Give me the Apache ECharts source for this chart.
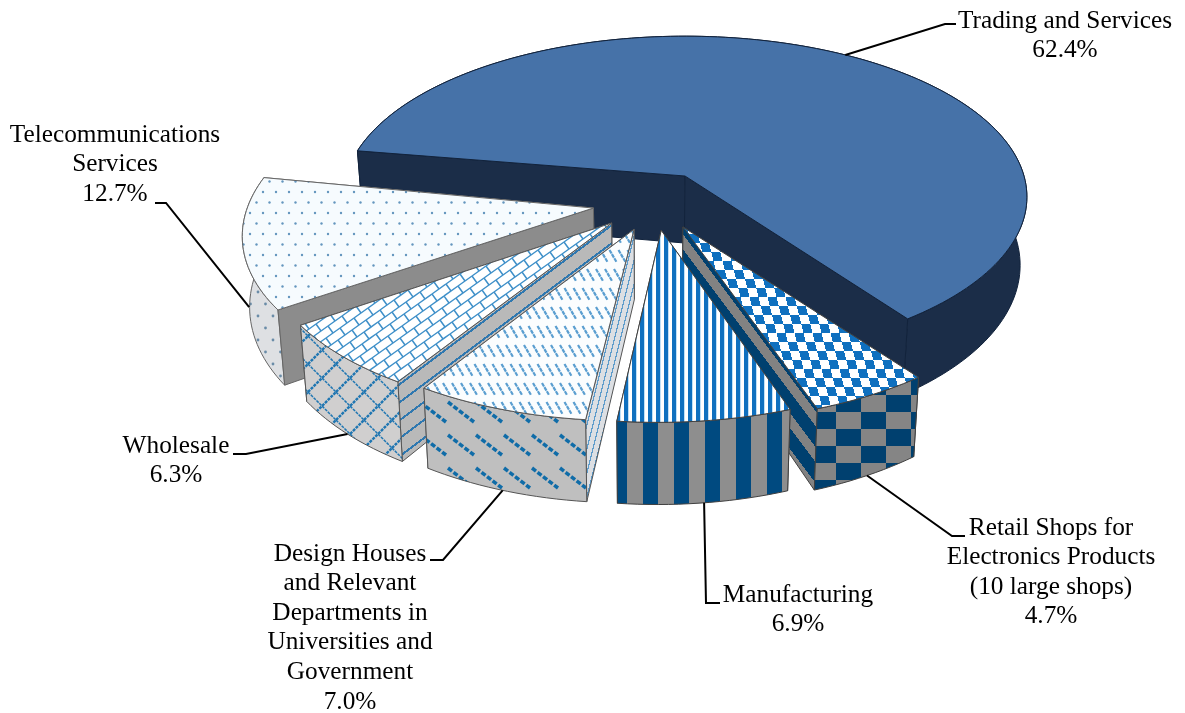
<!DOCTYPE html>
<html><head><meta charset="utf-8">
<style>html,body{margin:0;padding:0;background:#fff}#c{width:1185px;height:713px}</style>
<script src="https://cdn.jsdelivr.net/npm/echarts@6/dist/echarts.min.js"></script>
</head><body><div id="c"></div>
<script>
// ---------- data ----------
const categories = ["Trading and Services","Retail Shops for Electronics Products (10 large shops)","Manufacturing","Design Houses and Relevant Departments in Universities and Government","Wholesale","Telecommunications Services"];
const shares = [62.4, 4.7, 6.9, 7.0, 6.3, 12.7];
const labelLines = [
  ["Trading and Services"],
  ["Retail Shops for","Electronics Products","(10 large shops)"],
  ["Manufacturing"],
  ["Design Houses","and Relevant","Departments in","Universities and","Government"],
  ["Wholesale"],
  ["Telecommunications","Services"]
];
// ---------- layout / projection ----------
const X0=685,Y0=176,RX=339,RY=158,PERSP=0.13,EXPLODE=0.178,END_MAIN_DEG=53;
const radii=[1,0.985,0.967,0.967,0.975,0.995];
const bottomOf=p=>[p[0]+(650-p[0])*0.018, p[1]+67+0.0615*(p[1]-176)];
const labelPos=[[1065,21],[1051,528],[798,595],[350,554],[176,446],[115,135]];
const lineStep=29.6;
const leaders=[{t:0,pts:[[945,24],[956,24]]},{t:1,pts:[[952,536],[965,536]]},{t:1,pts:[[706,603],[720,603]]},
  {t:1,pts:[[443,560],[430,560]]},{t:1,pts:[[246,454],[233,454]]},{t:0.9,pts:[[166,203],[155,203]]}];
const paintOrder=[0,5,4,1,3,2];
const warpTable=[[53,-0.3],[70,0.3],[95,1.2],[120,2],[143,2.7],[189,2.5]];

// ---------- patterns ----------
function tile(w,h,draw){const c=document.createElement('canvas');c.width=w;c.height=h;const g=c.getContext('2d');draw(g,w,h);return {image:c,repeat:'repeat'};}
function bg(g,w,h,col){g.fillStyle=col;g.fillRect(0,0,w,h);}
function bands(w,h,fn){return tile(w,h,(g)=>{for(let y=0;y<h;y++)for(let x=0;x<w;x++){g.fillStyle=fn(x,y);g.fillRect(x,y,1,1);}});}
const mod=(a,b)=>((a%b)+b)%b;
const checkTop=bands(18,72,(x,y)=>{const xs=mod(x-y*0.25,18);return ((Math.floor(xs/9)+Math.floor(y/9))%2===0)?'#0F70BF':'#FFFFFF';});
const checkSide=bands(50,34,(x,y)=>{const xs=mod(x+14,50);const ys=mod(y-4,34);return ((Math.floor(xs/25)+Math.floor(ys/17))%2===0)?'#858585':'#00406F';});
const retailCut=bands(27,36,(x,y)=>{const k=mod(y-4*x/3-3,36);return k<5?'#00406F':(k<20?'#828282':'#00406F');});
const stripeTop=bands(8,2,(x)=>{const k=mod(x,8);return k<4?'#0F70BF':(k<5?'#BFE0F7':'#FFFFFF');});
const stripeSide=bands(31,2,(x)=>{const k=mod(x-23,31);return k<15?'#004A80':'#8E8E8E';});
const dashTop=tile(18,38,(g,w,h)=>{bg(g,w,h,'#FBFDFE');g.strokeStyle='#5A9ED0';g.lineWidth=2.2;g.setLineDash([4,0.8]);
  [[2,3],[11,3],[-7,3],[20,3],[6.5,22],[15.5,22],[-2.5,22]].forEach(p=>{g.beginPath();g.moveTo(p[0],p[1]);g.lineTo(p[0]+7,p[1]+12);g.stroke();});});
const dashSide=tile(28,33,(g,w,h)=>{bg(g,w,h,'#BFBFBF');g.strokeStyle='#0F6CA8';g.lineWidth=3.5;g.setLineDash([5,2]);
  [[0,6],[-28,6],[28,6]].forEach(p=>{g.beginPath();g.moveTo(p[0],p[1]);g.lineTo(p[0]+26,p[1]+20);g.stroke();});});
const designCut=bands(6,24,(x,y)=>{const k=mod(y+4*x-8,24);return k<5?'#5E9CCB':'#DCDFE3';});
const brickTop=tile(74,74,(g,w,h)=>{bg(g,w,h,'#FFFFFF');g.strokeStyle='#3F90C9';g.lineWidth=1.5;
  const a=[14,-10],c=[12,2],b=[5,7];
  for(let i=-14;i<=14;i++)for(let j=-14;j<=14;j++){const px=i*a[0]+j*c[0],py=i*a[1]+j*c[1];
    g.beginPath();g.moveTo(px,py);g.lineTo(px+a[0],py+a[1]);g.moveTo(px,py);g.lineTo(px+b[0],py+b[1]);g.stroke();}});
const gridSide=tile(28,28,(g,w,h)=>{bg(g,w,h,'#D0CFCF');g.strokeStyle='#1F76B2';
  g.lineWidth=2.4;g.setLineDash([3,1]);[-28,0,28].forEach(o=>{g.beginPath();g.moveTo(o,28);g.lineTo(o+28,0);g.stroke();});
  g.lineWidth=1.5;[-28,0,28].forEach(o=>{g.beginPath();g.moveTo(o,0);g.lineTo(o+28,28);g.stroke();});});
const wholesaleCut=bands(24,18,(x,y)=>{const k=mod(y+0.75*x-16,18);return k<2.4?'#2F78B0':'#B9B9B9';});
const dotTop=tile(13,21,(g,w,h)=>{bg(g,w,h,'#F6FBFE');g.fillStyle='#6496BE';
  [[3,3],[9.5,13.5]].forEach(p=>{g.beginPath();g.arc(p[0],p[1],1.2,0,7);g.fill();});});
const dotSide=tile(15,24,(g,w,h)=>{bg(g,w,h,'#DEE0E3');g.fillStyle='#6A8CA8';
  [[3,4],[10.5,16]].forEach(p=>{g.beginPath();g.arc(p[0],p[1],1.4,0,7);g.fill();});});
const styles=[
 {top:'#4672A8',arc:'#1B2D48',cutS:'#1B2D48',cutE:'#1B2D48',line:'#12233C'},
 {top:checkTop,arc:checkSide,cutS:'#00406F',cutE:retailCut,line:'#404040'},
 {top:stripeTop,arc:stripeSide,cutS:'#8E8E8E',cutE:'#8E8E8E',line:'#404040'},
 {top:dashTop,arc:dashSide,cutS:designCut,cutE:'#BFBFBF',line:'#555555'},
 {top:brickTop,arc:gridSide,cutS:wholesaleCut,cutE:'#CFCFCF',line:'#555555'},
 {top:dotTop,arc:dotSide,cutS:'#8C8C8C',cutE:'#DEE0E3',line:'#666666'}
];

// ---------- geometry from the shares ----------
const total=shares.reduce((a,b)=>a+b,0);
const rad=d=>d*Math.PI/180;
const startMain=END_MAIN_DEG-shares[0]/total*360;
let acc=startMain;
const wedges=shares.map((s,i)=>{const a0=acc,a1=acc+s/total*360;acc=a1;return {a0,a1,mid:(a0+a1)/2,r:radii[i],main:i===0};});
const mainDir=[Math.cos(rad(wedges[0].mid)),Math.sin(rad(wedges[0].mid))];
wedges.forEach(w=>{w.ou=EXPLODE*(Math.cos(rad(w.mid))-mainDir[0]);w.ov=EXPLODE*(Math.sin(rad(w.mid))-mainDir[1]);});
function warp(w,deg){
  if(w.main) return deg+1;
  for(let i=0;i<warpTable.length-1;i++){const p=warpTable[i],q=warpTable[i+1];
    if(deg<=q[0]) return deg+p[1]+(q[1]-p[1])*(deg-p[0])/(q[0]-p[0]);}
  return deg+warpTable[warpTable.length-1][1];
}
function proj(w,r,deg){const d=warp(w,deg),u=w.ou+r*Math.cos(rad(d)),v=w.ov+r*Math.sin(rad(d));const g=1/(1-PERSP*v);return [X0+RX*u*g,Y0+RY*v*g];}
function arcPts(w){const n=Math.max(8,Math.ceil((w.a1-w.a0)/1.5)),o=[];for(let i=0;i<=n;i++)o.push(proj(w,w.r,w.a0+(w.a1-w.a0)*i/n));return o;}
function renderItem(params){
  const i=params.dataIndex,idx=paintOrder[i],w=wedges[idx],st=styles[idx];
  const base=i*10+2,apex=proj(w,0,0),arc=arcPts(w),A=arc[0],B=arc[arc.length-1];
  const faces=[
    {pts:[apex,A,bottomOf(A),bottomOf(apex)],fill:st.cutS},
    {pts:[apex,B,bottomOf(B),bottomOf(apex)],fill:st.cutE},
    {pts:arc.concat(arc.map(bottomOf).reverse()),fill:st.arc}
  ];
  faces.forEach(f=>{f.y=f.pts.reduce((s,p)=>s+p[1],0)/f.pts.length;});
  faces.sort((a,b)=>a.y-b.y);
  const children=faces.map((f,k)=>({type:'polygon',z2:base+k,shape:{points:f.pts},style:{fill:f.fill,stroke:st.line,lineWidth:1,lineJoin:'round'}}));
  children.push({type:'polygon',z2:base+5,shape:{points:[apex].concat(arc)},style:{fill:st.top,stroke:st.line,lineWidth:1,lineJoin:'round'}});
  return {type:'group',children};
}
function renderLabels(params){
  const i=params.dataIndex,w=wedges[i],L=leaders[i];
  const top=proj(w,w.r,w.mid),bot=bottomOf(top);
  const s=[top[0]+(bot[0]-top[0])*L.t,top[1]+(bot[1]-top[1])*L.t];
  const lines=labelLines[i].concat([shares[i].toFixed(1)+'%']);
  const kids=[{type:'polyline',z2:200,shape:{points:[s].concat(L.pts)},style:{fill:'none',stroke:'#000',lineWidth:2}}];
  lines.forEach((t,k)=>kids.push({type:'text',z2:201,x:labelPos[i][0],y:labelPos[i][1]+k*lineStep,
    style:{text:t,fill:'#000',font:'25.3px "Liberation Serif"',align:'center',verticalAlign:'middle'}}));
  return {type:'group',children:kids};
}
const chart=echarts.init(document.getElementById('c'),null,{renderer:'canvas',width:1185,height:713});
chart.setOption({
  animation:false,backgroundColor:'#fff',
  series:[
    {type:'custom',coordinateSystem:'none',renderItem,silent:true,z:2,clip:false,data:paintOrder.map(k=>({name:categories[k],value:shares[k]}))},
    {type:'custom',coordinateSystem:'none',renderItem:renderLabels,silent:true,z:3,clip:false,data:categories.map((n,k)=>({name:n,value:shares[k]}))}
  ]
});
</script></body></html>
